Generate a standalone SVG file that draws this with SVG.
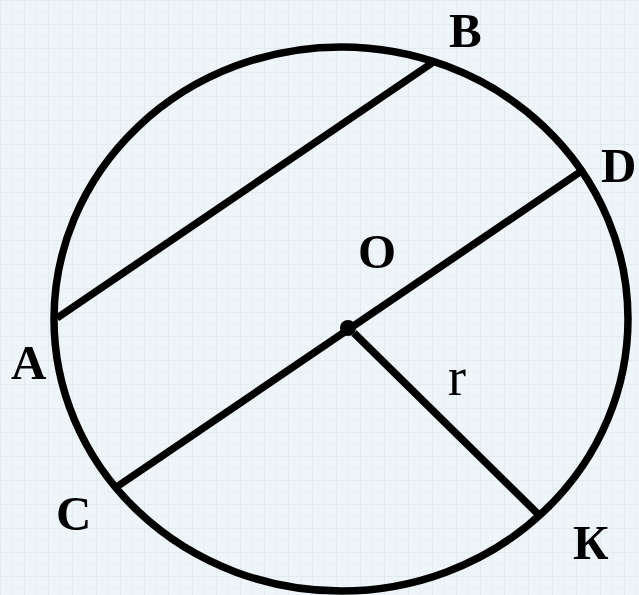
<svg xmlns="http://www.w3.org/2000/svg" width="639" height="595" viewBox="0 0 639 595">
  <style>
    .ln { stroke: #000; stroke-width: 7.5; fill: none; stroke-linecap: butt; }
    .lbl { font-family: "Liberation Serif", "Times New Roman", serif; font-weight: bold; font-size: 49px; fill: #000; }
    .lr { font-family: "Liberation Serif", "Times New Roman", serif; font-size: 54px; fill: #000; }
  </style>
  <defs>
    <pattern id="grid" width="24" height="24" patternUnits="userSpaceOnUse">
      <path d="M0 0.5H24M0.5 0V24" stroke="#d8e3e8" stroke-width="1" fill="none"/>
      <path d="M0 12.5H24M12.5 0V24" stroke="#e4edf1" stroke-width="1" fill="none"/>
    </pattern>
  </defs>
  <rect width="639" height="595" fill="#eef5f8"/>
  <rect width="639" height="595" fill="url(#grid)" opacity="0.6"/>

  <g id="circle">
    <ellipse class="ln" cx="341" cy="319" rx="287" ry="272"/>
  </g>

  <g id="connectors">
    <line class="ln" x1="57" y1="318" x2="432" y2="63"/>
    <line class="ln" x1="115" y1="488" x2="580" y2="172"/>
    <line class="ln" x1="354" y1="333" x2="538" y2="514"/>
  </g>

  <g id="O">
    <circle cx="348" cy="328" r="8" fill="#000"/>
    <text class="lbl" x="358" y="268">O</text>
  </g>
  <g id="A"><text class="lbl" x="11" y="379">A</text></g>
  <g id="B"><text class="lbl" x="449" y="47">B</text></g>
  <g id="C"><text class="lbl" x="56" y="530">C</text></g>
  <g id="D"><text class="lbl" x="601" y="182">D</text></g>
  <g id="K"><text class="lbl" x="573" y="559">К</text></g>
  <g id="r"><text class="lr" x="448" y="395">r</text></g>
</svg>
